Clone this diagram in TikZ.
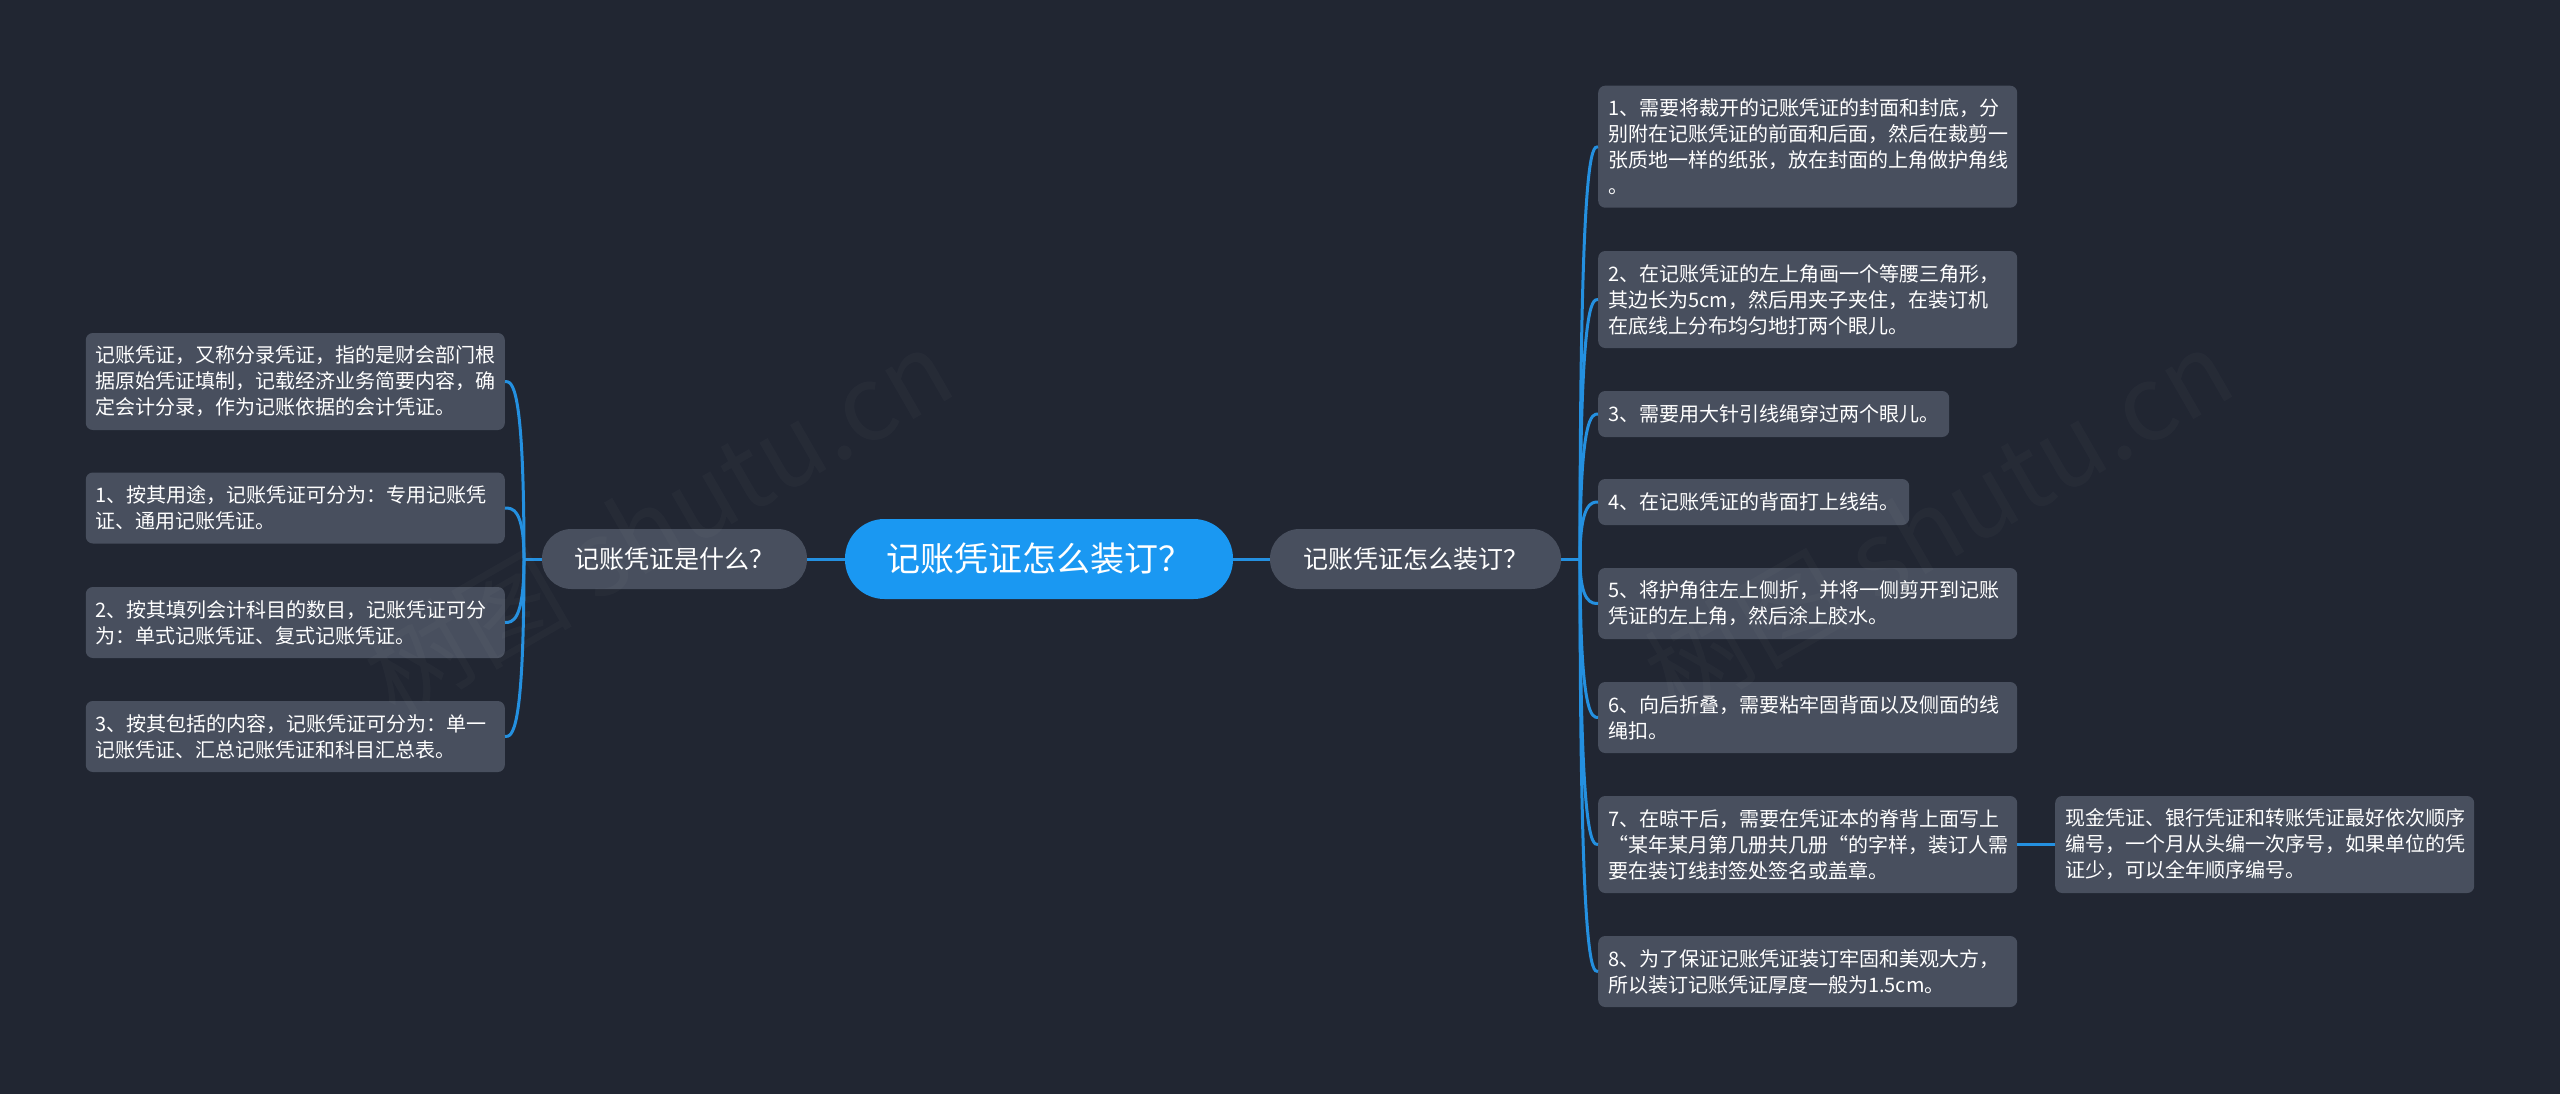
\documentclass[tikz,border=0pt]{standalone}
\usepackage{fontspec}
\setmainfont{Noto Sans CJK SC}
\usetikzlibrary{calc}
\definecolor{pagebg}{HTML}{212632}
\definecolor{cardfill}{HTML}{484F5E}
\definecolor{rootblue}{HTML}{1A98F2}
\definecolor{linkblue}{HTML}{2490E0}
\tikzset{
  card/.style={fill=cardfill,rounded corners=7pt,text=white,align=left,inner xsep=10pt,inner ysep=0pt,
    font=\fontsize{20}{26}\selectfont,text width=#1},
  card/.default=399pt,
  pill/.style={fill=cardfill,rounded corners=29.5pt,text=white,minimum height=60pt,
    font=\fontsize{25}{30}\selectfont},
  rootpill/.style={fill=rootblue,rounded corners=39.5pt,text=white,minimum width=388pt,minimum height=80pt,
    font=\fontsize{34}{38}\selectfont},
  link/.style={draw=linkblue,line width=3pt},
  twig/.style={to path={.. controls (\tikztostart |- \tikztotarget) and ($(\tikztostart |- \tikztotarget)+(#1,0)$) .. (\tikztotarget)}},
  wmark/.style={text=white,opacity=0.025,rotate=30,font=\fontsize{104}{110}\selectfont}
}
\begin{document}
\begin{tikzpicture}[x=1pt,y=-1pt]
\useasboundingbox (0,0) rectangle (2560,1093);
\fill[pagebg] (-5,-5) rectangle (2565,1098);
\node[rootpill] (rootn) at (1039,559) {记账凭证怎么装订？};
\node[pill,minimum width=291pt] (brright) at (1415.5,559) {记账凭证怎么装订？};
\node[pill,minimum width=265pt] (brleft) at (674.5,559) {记账凭证是什么？};
\coordinate (hubright) at (1580,559);
\coordinate (hubleft) at (524,559);
\node[card,anchor=west,minimum height=122pt] (r1) at (1598,146.7) {1、需要将裁开的记账凭证的封面和封底，分\\别附在记账凭证的前面和后面，然后在裁剪一\\张质地一样的纸张，放在封面的上角做护角线\\。};
\node[card,anchor=west,minimum height=97pt] (r2) at (1598,299.5) {2、在记账凭证的左上角画一个等腰三角形，\\其边长为5cm，然后用夹子夹住，在装订机\\在底线上分布均匀地打两个眼儿。};
\node[card=331pt,anchor=west,minimum height=46pt] (r3) at (1598,414) {3、需要用大针引线绳穿过两个眼儿。};
\node[card=291pt,anchor=west,minimum height=46pt] (r4) at (1598,502) {4、在记账凭证的背面打上线结。};
\node[card,anchor=west,minimum height=71pt] (r5) at (1598,603.5) {5、将护角往左上侧折，并将一侧剪开到记账\\凭证的左上角，然后涂上胶水。};
\node[card,anchor=west,minimum height=71pt] (r6) at (1598,717.5) {6、向后折叠，需要粘牢固背面以及侧面的线\\绳扣。};
\node[card,anchor=west,minimum height=97pt] (r7) at (1598,844.5) {7、在晾干后，需要在凭证本的脊背上面写上\\“某年某月第几册共几册“的字样，装订人需\\要在装订线封签处签名或盖章。};
\node[card,anchor=west,minimum height=71pt] (r8) at (1598,971.5) {8、为了保证记账凭证装订牢固和美观大方，\\所以装订记账凭证厚度一般为1.5cm。};
\node[card,anchor=west,minimum height=97pt] (side) at (2055,844.5) {现金凭证、银行凭证和转账凭证最好依次顺序\\编号，一个月从头编一次序号，如果单位的凭\\证少，可以全年顺序编号。};
\node[card,anchor=east,minimum height=97pt] (l1) at (505,381.5) {记账凭证，又称分录凭证，指的是财会部门根\\据原始凭证填制，记载经济业务简要内容，确\\定会计分录，作为记账依据的会计凭证。};
\node[card,anchor=east,minimum height=71pt] (l2) at (505,508) {1、按其用途，记账凭证可分为：专用记账凭\\证、通用记账凭证。};
\node[card,anchor=east,minimum height=71pt] (l3) at (505,622.5) {2、按其填列会计科目的数目，记账凭证可分\\为：单式记账凭证、复式记账凭证。};
\node[card,anchor=east,minimum height=71pt] (l4) at (505,736.5) {3、按其包括的内容，记账凭证可分为：单一\\记账凭证、汇总记账凭证和科目汇总表。};
\draw[link] (rootn) -- (brright);
\draw[link] (rootn) -- (brleft);
\draw[link] (brright) -- (hubright);
\draw[link] (brleft) -- (hubleft);
\draw[link] (hubright) to[twig=12] (r1.west);
\draw[link] (hubright) to[twig=12] (r2.west);
\draw[link] (hubright) to[twig=12] (r3.west);
\draw[link] (hubright) to[twig=12] (r4.west);
\draw[link] (hubright) to[twig=12] (r5.west);
\draw[link] (hubright) to[twig=12] (r6.west);
\draw[link] (hubright) to[twig=12] (r7.west);
\draw[link] (hubright) to[twig=12] (r8.west);
\draw[link] (hubleft) to[twig=-12] (l1.east);
\draw[link] (hubleft) to[twig=-12] (l2.east);
\draw[link] (hubleft) to[twig=-12] (l3.east);
\draw[link] (hubleft) to[twig=-12] (l4.east);
\draw[link] (r7) -- (side);
\node[wmark] (wmleft) at (658,522) {树图 shutu.cn};
\node[wmark] (wmright) at (1938,522) {树图 shutu.cn};
\end{tikzpicture}
\end{document}
